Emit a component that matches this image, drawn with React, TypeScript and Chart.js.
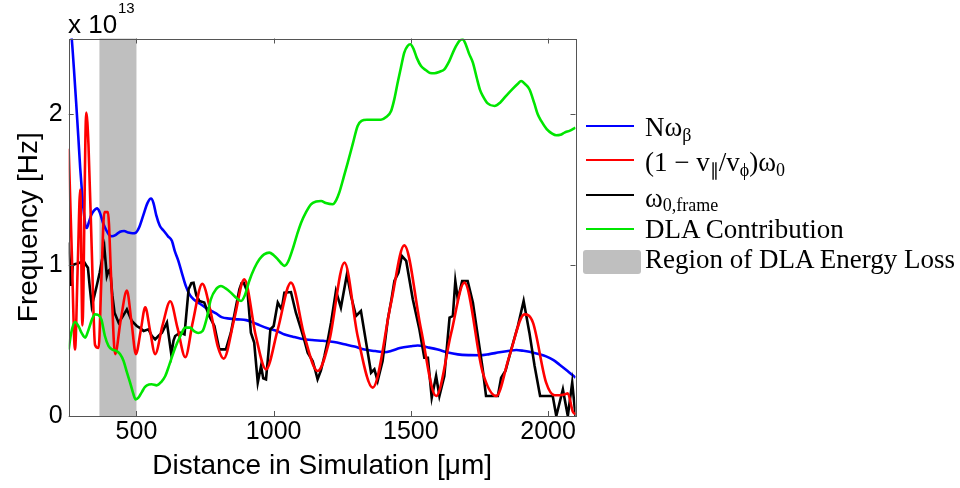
import React, { useEffect, useRef } from "react";
import { Chart, registerables } from "chart.js";

Chart.register(...registerables);

// ---- axes ----
const xMin = 253;
const xMax = 2100;
const yMin = 0;
const yMax = 2.5;
const xTickValues = [500, 1000, 1500, 2000];
const yTickValues = [0, 1, 2];
const lossRegion = [365, 500];

// ---- series: N omega_beta (blue) ----
const blueX = [256, 264, 272, 280, 288, 295, 302, 308, 314, 319, 326, 335, 345, 356, 366, 378, 390, 400, 410, 425, 440, 455, 470, 485, 498, 510, 525, 540, 553, 562, 572, 585, 600, 615, 629, 640, 652, 665, 680, 695, 710, 730, 750, 770, 790, 810, 840, 870, 900, 925, 950, 980, 1010, 1040, 1070, 1100, 1140, 1180, 1220, 1258, 1295, 1331, 1370, 1404, 1430, 1460, 1500, 1525, 1560, 1598, 1635, 1671, 1714, 1750, 1786, 1823, 1860, 1884, 1910, 1932, 1965, 1993, 2020, 2042, 2070, 2100];
const blueY = [2.62, 2.5, 2.3, 2.08, 1.85, 1.64, 1.47, 1.35, 1.26, 1.245, 1.28, 1.33, 1.36, 1.375, 1.35, 1.28, 1.23, 1.2, 1.19, 1.2, 1.22, 1.225, 1.215, 1.21, 1.215, 1.25, 1.33, 1.41, 1.44, 1.41, 1.33, 1.26, 1.225, 1.19, 1.16, 1.09, 1.03, 0.95, 0.86, 0.8, 0.77, 0.745, 0.72, 0.7, 0.68, 0.655, 0.645, 0.64, 0.635, 0.62, 0.6, 0.58, 0.565, 0.54, 0.525, 0.512, 0.503, 0.498, 0.49, 0.475, 0.46, 0.44, 0.43, 0.422, 0.432, 0.45, 0.462, 0.467, 0.455, 0.44, 0.42, 0.408, 0.403, 0.402, 0.41, 0.422, 0.432, 0.437, 0.432, 0.425, 0.41, 0.395, 0.37, 0.34, 0.3, 0.254];

// ---- series: (1 - v||/vphi) omega_0 (red) ----
const redX = [253, 264, 276, 286, 295, 303, 317, 325, 337, 349, 362, 372, 383, 396, 408, 422, 443, 465, 482, 498, 515, 532, 550, 568, 595, 623, 650, 678, 705, 740, 771, 796, 818, 856, 893, 935, 972, 1015, 1063, 1112, 1160, 1203, 1258, 1306, 1361, 1428, 1476, 1537, 1592, 1647, 1695, 1762, 1811, 1859, 1914, 1945, 1993, 2024, 2060, 2072, 2090, 2100];
const redY = [1.77, 1.1, 0.44, 1.0, 1.5, 0.6, 2.01, 1.8, 1.1, 0.47, 0.45, 0.9, 1.35, 1.35, 0.9, 0.41, 0.64, 0.83, 0.62, 0.41, 0.56, 0.72, 0.56, 0.41, 0.6, 0.76, 0.58, 0.39, 0.62, 0.875, 0.684, 0.463, 0.38, 0.64, 0.905, 0.53, 0.309, 0.574, 0.883, 0.53, 0.298, 0.5, 1.016, 0.53, 0.188, 0.751, 1.13, 0.574, 0.132, 0.55, 0.883, 0.287, 0.132, 0.397, 0.673, 0.618, 0.221, 0.137, 0.143, 0.15, 0.03, 0.01];

// ---- series: omega_0,frame (black) ----
const blackX = [253, 262, 268, 274, 285, 295, 307, 316, 323, 330, 337, 347, 355, 366, 376, 383, 392, 398, 404, 412, 420, 435, 450, 465, 483, 501, 515, 526, 544, 556, 568, 580, 593, 611, 620, 627, 635, 641, 659, 675, 683, 690, 700, 708, 718, 729, 747, 765, 784, 802, 826, 844, 860, 875, 883, 891, 905, 917, 929, 942, 954, 962, 972, 980, 988, 1000, 1015, 1029, 1039, 1063, 1081, 1100, 1112, 1124, 1142, 1152, 1160, 1172, 1185, 1197, 1209, 1227, 1245, 1267, 1282, 1300, 1318, 1337, 1355, 1367, 1379, 1397, 1416, 1430, 1440, 1455, 1467, 1483, 1507, 1531, 1549, 1562, 1576, 1592, 1604, 1622, 1641, 1653, 1662, 1671, 1687, 1707, 1726, 1744, 1762, 1774, 1817, 1829, 1845, 1866, 1890, 1911, 1932, 1951, 1971, 2017, 2030, 2054, 2072, 2088, 2100];
const blackY = [1.15, 0.861, 1.0, 1.005, 1.01, 1.016, 1.027, 1.0, 0.982, 0.85, 0.729, 0.8, 0.861, 0.95, 1.05, 1.115, 0.927, 0.96, 0.971, 0.8, 0.684, 0.618, 0.66, 0.706, 0.629, 0.596, 0.58, 0.563, 0.574, 0.53, 0.508, 0.53, 0.552, 0.618, 0.5, 0.408, 0.5, 0.53, 0.552, 0.541, 0.7, 0.839, 0.88, 0.883, 0.8, 0.762, 0.751, 0.662, 0.596, 0.441, 0.441, 0.552, 0.7, 0.839, 0.88, 0.883, 0.817, 0.552, 0.486, 0.221, 0.331, 0.25, 0.243, 0.4, 0.574, 0.596, 0.751, 0.706, 0.817, 0.821, 0.684, 0.574, 0.5, 0.419, 0.364, 0.3, 0.243, 0.3, 0.397, 0.5, 0.618, 0.828, 0.718, 0.938, 0.795, 0.662, 0.695, 0.486, 0.287, 0.309, 0.232, 0.364, 0.64, 0.78, 0.894, 0.95, 1.06, 1.027, 0.773, 0.574, 0.386, 0.386, 0.121, 0.265, 0.132, 0.265, 0.651, 0.662, 0.894, 0.773, 0.894, 0.894, 0.751, 0.53, 0.309, 0.132, 0.132, 0.254, 0.3, 0.442, 0.596, 0.762, 0.552, 0.331, 0.132, 0.132, 0.0, 0.176, 0.0, 0.221, 0.0];

// ---- series: DLA Contribution (green) ----
const greenX = [253, 262, 276, 290, 300, 313, 325, 338, 349, 360, 372, 385, 398, 412, 428, 440, 453, 465, 477, 488, 497, 507, 520, 530, 538, 555, 574, 590, 605, 620, 641, 660, 678, 695, 711, 725, 741, 755, 771, 790, 808, 825, 844, 865, 881, 895, 911, 930, 948, 965, 984, 1000, 1015, 1028, 1039, 1052, 1069, 1085, 1100, 1118, 1136, 1155, 1173, 1190, 1215, 1228, 1239, 1255, 1270, 1288, 1306, 1320, 1340, 1365, 1391, 1410, 1428, 1440, 1452, 1464, 1476, 1488, 1498, 1510, 1522, 1537, 1555, 1570, 1586, 1605, 1622, 1640, 1659, 1677, 1689, 1700, 1712, 1726, 1740, 1752, 1762, 1780, 1805, 1825, 1847, 1870, 1890, 1902, 1915, 1932, 1950, 1962, 1975, 1995, 2015, 2030, 2045, 2060, 2080, 2100];
const greenY = [0.44, 0.55, 0.623, 0.59, 0.55, 0.519, 0.57, 0.64, 0.673, 0.67, 0.64, 0.53, 0.464, 0.44, 0.43, 0.41, 0.364, 0.29, 0.22, 0.15, 0.11, 0.121, 0.16, 0.19, 0.203, 0.21, 0.203, 0.225, 0.265, 0.34, 0.452, 0.53, 0.585, 0.585, 0.56, 0.55, 0.563, 0.64, 0.773, 0.84, 0.861, 0.845, 0.817, 0.78, 0.762, 0.8, 0.894, 0.98, 1.038, 1.07, 1.082, 1.065, 1.038, 1.01, 0.994, 1.02, 1.104, 1.2, 1.28, 1.35, 1.402, 1.42, 1.424, 1.41, 1.402, 1.43, 1.479, 1.58, 1.678, 1.8, 1.921, 1.955, 1.962, 1.962, 1.962, 1.98, 2.02, 2.1, 2.208, 2.31, 2.407, 2.45, 2.462, 2.43, 2.37, 2.318, 2.29, 2.272, 2.27, 2.28, 2.296, 2.35, 2.43, 2.484, 2.495, 2.46, 2.4, 2.34, 2.24, 2.16, 2.12, 2.07, 2.053, 2.075, 2.12, 2.165, 2.2, 2.219, 2.2, 2.164, 2.07, 2.0, 1.954, 1.9, 1.87, 1.859, 1.862, 1.877, 1.89, 1.91];

const toPoints = (xs: number[], ys: number[]) => xs.map((x, i) => ({ x, y: ys[i] }));

const BLUE = "#0000ff";
const RED = "#ff0000";
const BLACK = "#000000";
const GREEN = "#00e600";
const GRAY = "#bfbfbf";
const SANS = "'Liberation Sans', Arial, sans-serif";
const SERIF = "'Liberation Serif', 'Times New Roman', serif";

const framePlugin = {
  id: "matlabFrame",
  beforeDatasetsDraw(chart: any) {
    const { ctx, chartArea: a, scales } = chart;
    const l = scales.x.getPixelForValue(lossRegion[0]);
    const r = scales.x.getPixelForValue(lossRegion[1]);
    ctx.save();
    ctx.fillStyle = GRAY;
    ctx.fillRect(l, a.top, r - l, a.bottom - a.top);
    ctx.restore();
  },
  afterDatasetsDraw(chart: any) {
    const { ctx, chartArea: a, scales } = chart;
    ctx.save();
    ctx.strokeStyle = "#555555";
    ctx.lineWidth = 1;
    const tl = 5;
    ctx.beginPath();
    xTickValues.forEach((v) => {
      const px = Math.round(scales.x.getPixelForValue(v)) + 0.5;
      ctx.moveTo(px, a.bottom);
      ctx.lineTo(px, a.bottom - tl);
      ctx.moveTo(px, a.top);
      ctx.lineTo(px, a.top + tl);
    });
    yTickValues.forEach((v) => {
      const py = Math.round(scales.y.getPixelForValue(v)) + 0.5;
      ctx.moveTo(a.left, py);
      ctx.lineTo(a.left + tl, py);
      ctx.moveTo(a.right, py);
      ctx.lineTo(a.right - tl, py);
    });
    ctx.stroke();
    ctx.strokeRect(
      Math.round(a.left) + 0.5,
      Math.round(a.top) + 0.5,
      Math.round(a.right) - Math.round(a.left),
      Math.round(a.bottom) - Math.round(a.top)
    );
    ctx.restore();
  },
};

const legendLines = [
  { color: BLUE, y: 126 },
  { color: RED, y: 160 },
  { color: BLACK, y: 195 },
  { color: GREEN, y: 229 },
];

const sub = (t: string, size = 18, shift = "-5px") => (
  <span style={{ fontSize: size, verticalAlign: shift }}>{t}</span>
);

export default function App() {
  const canvasRef = useRef<HTMLCanvasElement | null>(null);

  useEffect(() => {
    const canvas = canvasRef.current;
    if (!canvas) return;
    const common = { pointRadius: 0, pointHoverRadius: 0, borderWidth: 2.6, fill: false };
    const chart = new Chart(canvas, {
      type: "line",
      data: {
        datasets: [
          { label: "N\u03c9\u03b2", data: toPoints(blueX, blueY), borderColor: BLUE, cubicInterpolationMode: "monotone", order: 4, ...common },
          { label: "(1 \u2212 v\u2225/v\u03d5)\u03c90", data: toPoints(redX, redY), borderColor: RED, cubicInterpolationMode: "monotone", order: 2, ...common },
          { label: "\u03c90,frame", data: toPoints(blackX, blackY), borderColor: BLACK, tension: 0, order: 3, ...common },
          { label: "DLA Contribution", data: toPoints(greenX, greenY), borderColor: GREEN, cubicInterpolationMode: "monotone", order: 1, ...common },
        ] as any,
      },
      options: {
        responsive: false,
        animation: false,
        events: [],
        layout: { padding: { left: 0, top: 38.5, right: 384.5, bottom: 0 } },
        plugins: { legend: { display: false }, tooltip: { enabled: false } },
        scales: {
          x: {
            type: "linear",
            min: xMin,
            max: xMax,
            afterBuildTicks: (s: any) => {
              s.ticks = xTickValues.map((v) => ({ value: v }));
            },
            afterFit: (s: any) => {
              s.height = 72;
            },
            grid: { display: false, drawTicks: false },
            border: { display: false },
            ticks: {
              color: "#000",
              font: { family: SANS, size: 25 },
              padding: 1,
              maxRotation: 0,
              autoSkip: false,
              callback: (v: any) => String(v),
            },
            title: {
              display: true,
              text: "Distance in Simulation [\u03bcm]",
              color: "#000",
              font: { family: SANS, size: 28 },
              padding: { top: 0, bottom: 5 },
            },
          },
          y: {
            type: "linear",
            min: yMin,
            max: yMax,
            afterBuildTicks: (s: any) => {
              s.ticks = yTickValues.map((v) => ({ value: v }));
            },
            afterFit: (s: any) => {
              s.width = 68.7;
            },
            grid: { display: false, drawTicks: false },
            border: { display: false },
            ticks: {
              color: "#000",
              font: { family: SANS, size: 25 },
              padding: 6,
              autoSkip: false,
              callback: (v: any) => String(v),
            },
            title: {
              display: true,
              text: "Frequency [Hz]",
              color: "#000",
              font: { family: SANS, size: 28 },
              padding: { top: 12.8, bottom: 0 },
            },
          },
        },
      } as any,
      plugins: [framePlugin],
    });
    return () => chart.destroy();
  }, []);

  const textRow = (top: number): React.CSSProperties => ({
    position: "absolute",
    left: 645,
    top,
    fontFamily: SERIF,
    fontSize: 27,
    lineHeight: "27px",
    whiteSpace: "nowrap",
    color: "#000",
  });

  return (
    <div style={{ position: "fixed", left: 0, top: 0, width: 960, height: 488, background: "#fff", overflow: "hidden" }}>
      <canvas ref={canvasRef} width={960} height={488} style={{ display: "block", width: 960, height: 488 }} />
      <div style={{ position: "absolute", left: 68, top: 11, fontFamily: SANS, fontSize: 26, lineHeight: "26px", whiteSpace: "pre" }}>x 10</div>
      <div style={{ position: "absolute", left: 118, top: 0, fontFamily: SANS, fontSize: 15, lineHeight: "15px" }}>13</div>
      {legendLines.map((l, i) => (
        <div key={i} style={{ position: "absolute", left: 586, top: l.y - 1.3, width: 48, height: 2.6, background: l.color }} />
      ))}
      <div style={{ position: "absolute", left: 583, top: 250, width: 58, height: 24, background: GRAY, borderRadius: 3 }} />
      <div style={textRow(114.4)}>N{"\u03c9"}{sub("\u03b2")}</div>
      <div style={textRow(149.4)}>
        (1 {"\u2212"} v{sub("\u2225")}/v{sub("\u03d5")}){"\u03c9"}{sub("0")}
      </div>
      <div style={textRow(185.4)}>{"\u03c9"}{sub("0,frame", 18, "-4px")}</div>
      <div style={textRow(216.4)}>DLA Contribution</div>
      <div style={textRow(246.4)}>Region of DLA Energy Loss</div>
    </div>
  );
}
